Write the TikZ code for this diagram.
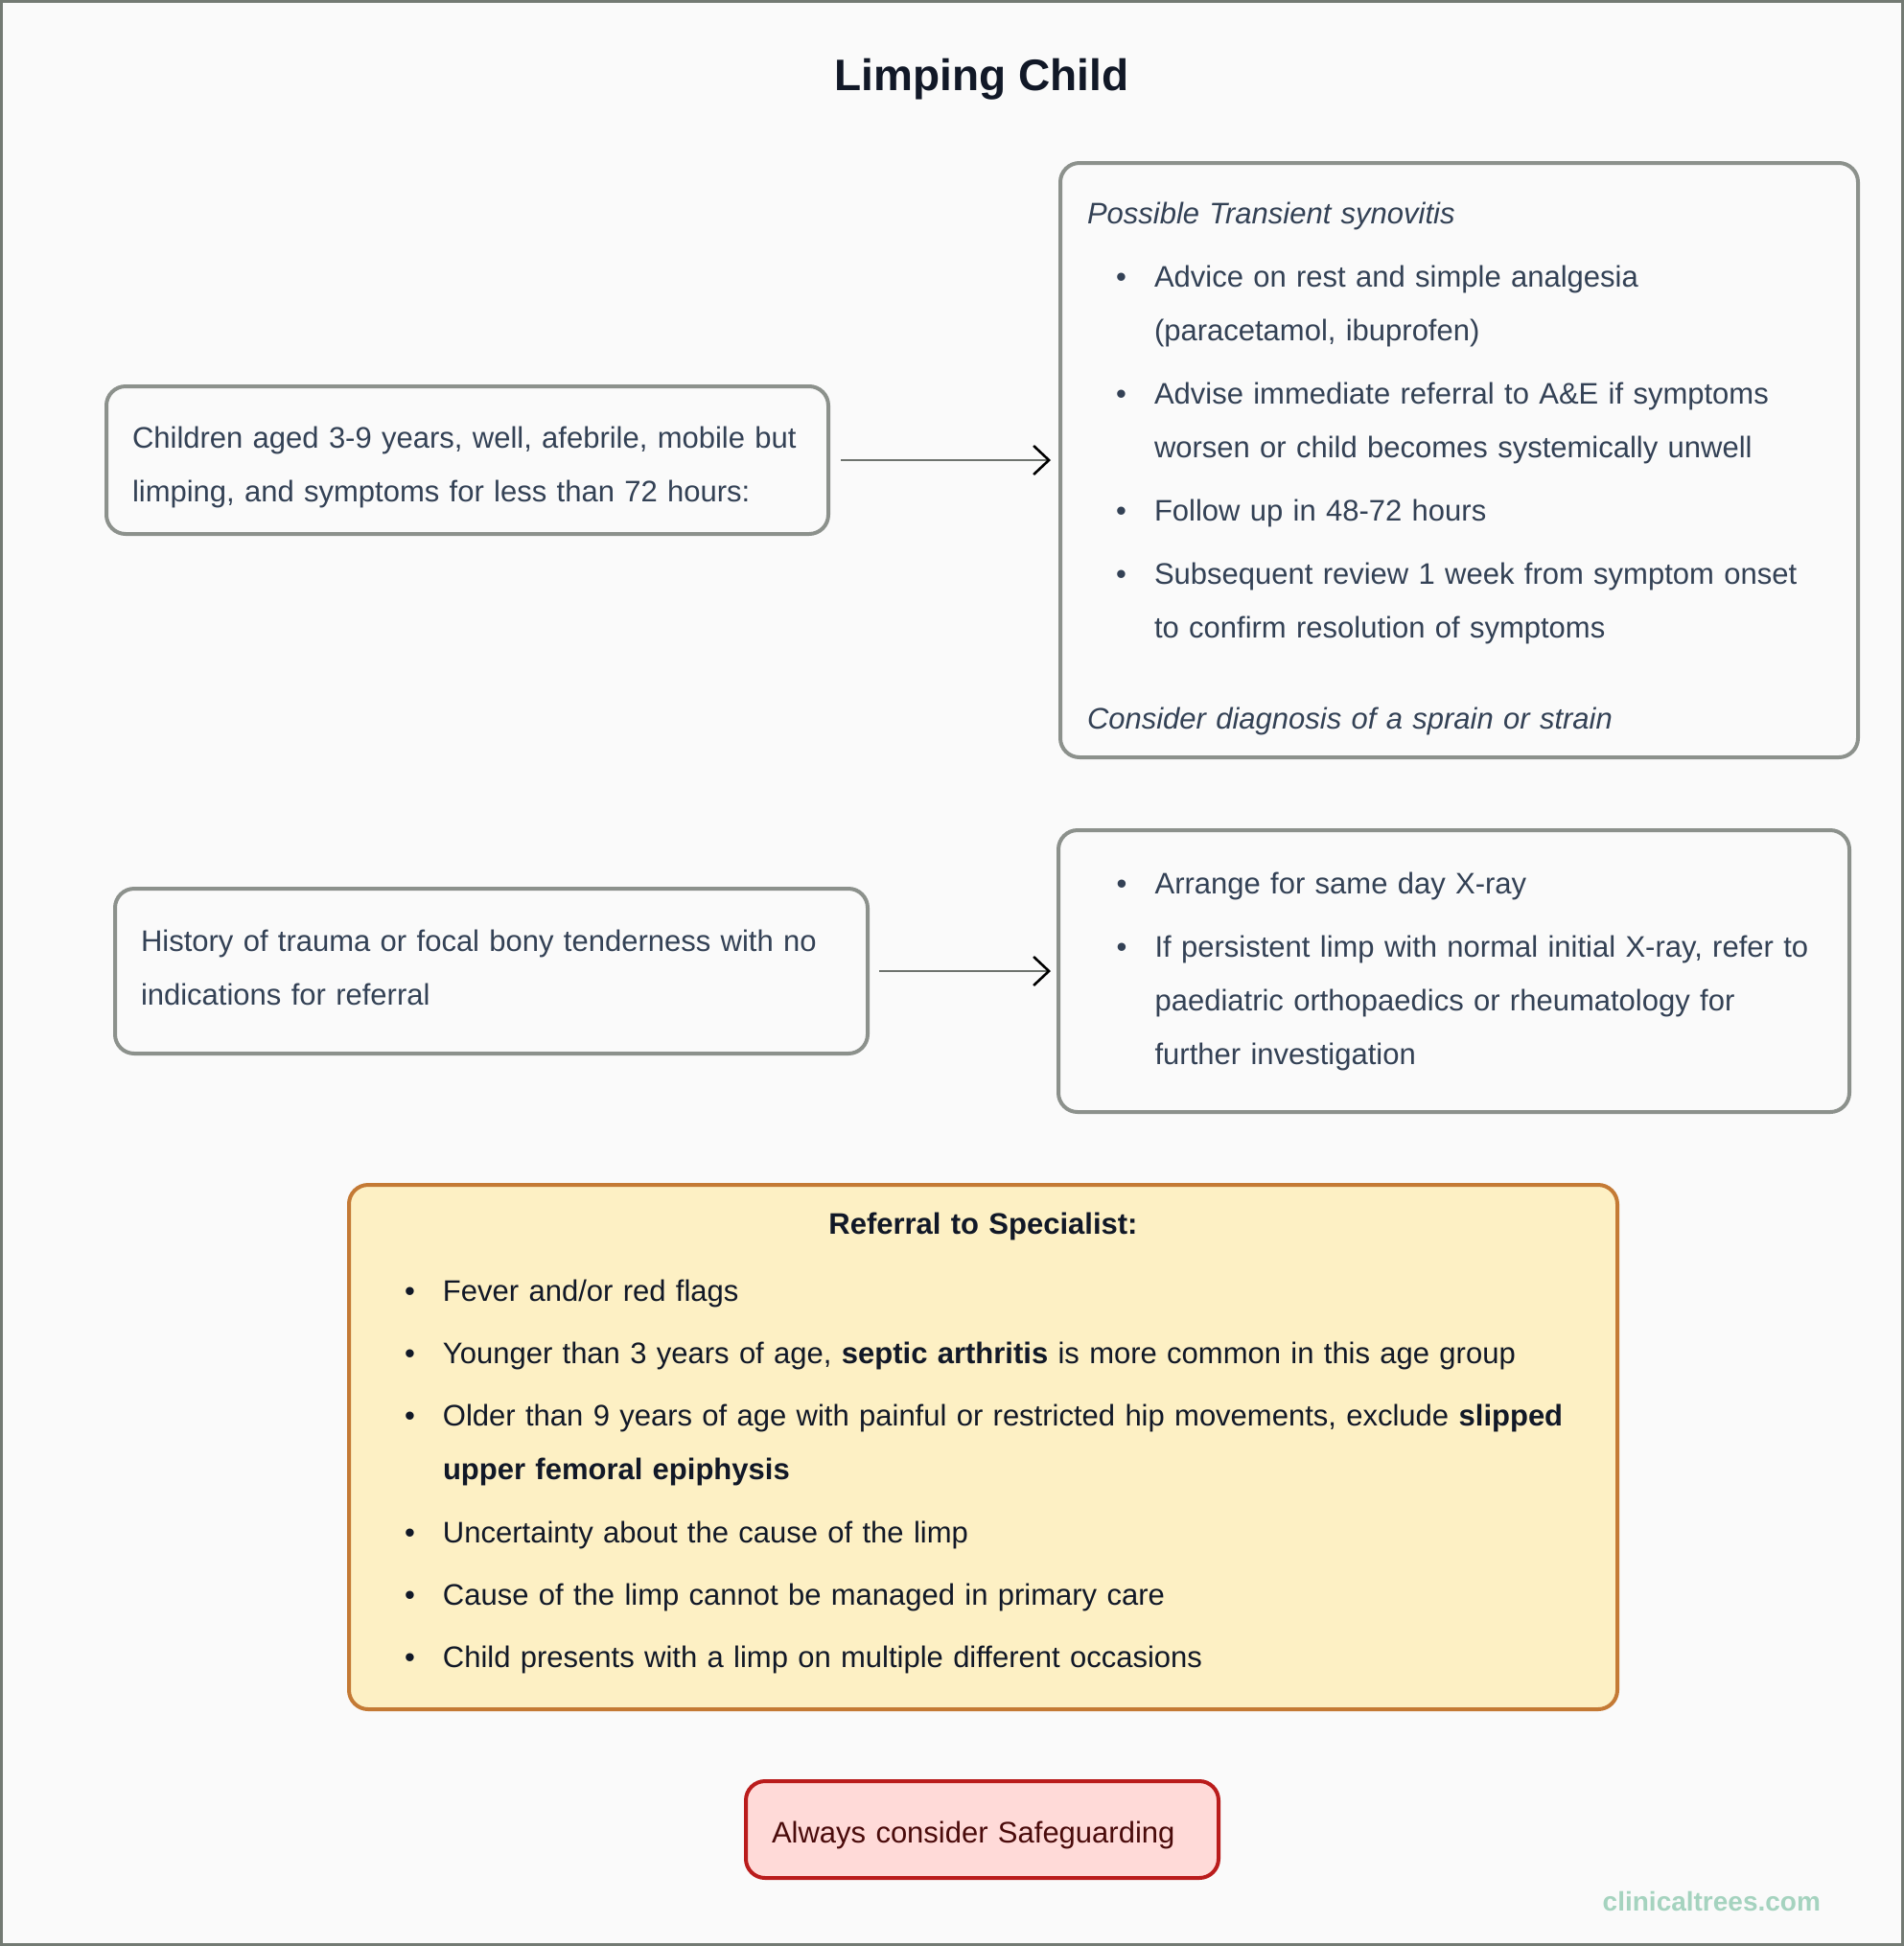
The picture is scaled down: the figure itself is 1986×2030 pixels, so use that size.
\documentclass[tikz,border=0pt]{standalone}
\usepackage{fontspec}
\setmainfont{Liberation Sans}
\usetikzlibrary{arrows.meta}

\definecolor{bgcol}{HTML}{FAFAFA}
\definecolor{framecol}{HTML}{737A73}
\definecolor{boxline}{HTML}{8C918C}
\definecolor{bodytext}{HTML}{334155}
\definecolor{titletext}{HTML}{111827}
\definecolor{arrowline}{HTML}{6E736E}
\definecolor{referfill}{HTML}{FDF0C4}
\definecolor{referline}{HTML}{C47A35}
\definecolor{safefill}{HTML}{FFDAD8}
\definecolor{safeline}{HTML}{BA1C1C}
\definecolor{safetext}{HTML}{4A0B0B}
\definecolor{marktext}{HTML}{A5D3BF}

% bullet and hanging indent for list lines
\newcommand{\bul}{\makebox[35pt][l]{\hspace{15pt}\textbullet}}
\newcommand{\ind}{\hspace*{35pt}}
% invisible struts to nudge text inside a box
\newcommand{\topstrut}[1]{\rule{0pt}{#1}}
\newcommand{\botstrut}[1]{\rule[-#1]{0pt}{0pt}}

\tikzset{
    infobox/.style={draw=boxline, line width=2pt, rounded corners=10pt, fill=bgcol,
        text=bodytext, align=left, inner xsep=14pt, inner ysep=0pt,
        font=\fontsize{15.5}{28}\selectfont},
    flowarrow/.style={draw=arrowline, line width=1.3pt,
        -{Straight Barb[length=8pt,width=15pt,line width=1.3pt,color=black]}}
}

\begin{document}
\begin{tikzpicture}[x=0.5pt, y=-0.5pt]
    % Page and frame
    \useasboundingbox (0,0) rectangle (1986,2030);
    \draw[framecol, line width=1.5pt, fill=bgcol] (1.5,1.5) rectangle (1984.5,2028.5);

    % Define box centres
    \coordinate (cA) at (487.5,480);
    \coordinate (cB) at (1522,480);
    \coordinate (cC) at (512.5,1013);
    \coordinate (cD) at (1516.5,1013);
    \coordinate (cE) at (1025.5,1509.5);
    \coordinate (cF) at (1024.5,1908.5);

    % Title
    \node[text=titletext, font=\fontsize{23}{28}\selectfont\bfseries] (title) at (1024,83) {Limping Child};

    % Upper row
    \node[infobox, inner xsep=13.5pt, text width=349.5pt, minimum height=77pt] (mildlimp) at (cA)
        {\topstrut{19pt}Children aged 3-9 years, well, afebrile, mobile but\\
         limping, and symptoms for less than 72 hours:};
    \node[infobox, text width=388pt, minimum height=310pt] (synovitis) at (cB)
        {\topstrut{20.5pt}\textit{Possible Transient synovitis}\\[5pt]
         \bul Advice on rest and simple analgesia\\
         \ind (paracetamol, ibuprofen)\\[5pt]
         \bul Advise immediate referral to A\&E if symptoms\\
         \ind worsen or child becomes systemically unwell\\[5pt]
         \bul Follow up in 48-72 hours\\[5pt]
         \bul Subsequent review 1 week from symptom onset\\
         \ind to confirm resolution of symptoms\\[19.5pt]
         \textit{Consider diagnosis of a sprain or strain}};
    \draw[flowarrow, shorten <=5.5pt, shorten >=4pt] (mildlimp) -- (synovitis);

    % Middle row
    \node[infobox, inner xsep=13.5pt, text width=365.5pt, minimum height=86pt] (trauma) at (cC)
        {History of trauma or focal bony tenderness with no\\
         indications for referral\botstrut{4pt}};
    \node[infobox, inner xsep=15.3pt, text width=381.9pt, minimum height=147pt] (xray) at (cD)
        {\bul Arrange for same day X-ray\\[5pt]
         \bul If persistent limp with normal initial X-ray, refer to\\
         \ind paediatric orthopaedics or rheumatology for\\
         \ind further investigation};
    \draw[flowarrow, shorten <=5pt, shorten >=3pt] (trauma) -- (xray);

    % Referral criteria
    \node[infobox, draw=referline, fill=referfill, text=titletext, text width=633.5pt, minimum height=273.5pt] (referral) at (cE)
        {\makebox[633.5pt][c]{\bfseries Referral to Specialist:}\\[7pt]
         \bul Fever and/or red flags\\[4.6pt]
         \bul Younger than 3 years of age, \textbf{septic arthritis} is more common in this age group\\[4.6pt]
         \bul Older than 9 years of age with painful or restricted hip movements, exclude \textbf{slipped}\\
         \ind \textbf{upper femoral epiphysis}\\[4.6pt]
         \bul Uncertainty about the cause of the limp\\[4.6pt]
         \bul Cause of the limp cannot be managed in primary care\\[4.6pt]
         \bul Child presents with a limp on multiple different occasions\botstrut{7.3pt}};

    % Safeguarding reminder
    \node[infobox, draw=safeline, fill=safefill, text=safetext, inner xsep=13.5pt, text width=219.5pt, minimum height=50.5pt] (safeguard) at (cF)
        {\topstrut{17.6pt}Always consider Safeguarding};

    % Site mark
    \node[anchor=east, text=marktext, font=\fontsize{14}{16}\selectfont\bfseries] (sitemark) at (1906,1983) {clinicaltrees.com};
\end{tikzpicture}
\end{document}
